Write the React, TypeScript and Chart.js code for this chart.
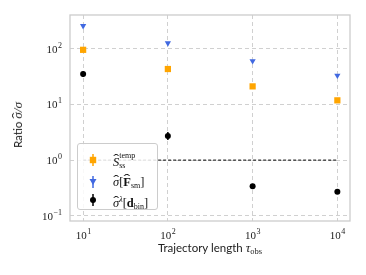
import React, { useEffect, useRef } from "react";
import { Chart, registerables } from "chart.js";

Chart.register(...registerables);

// ---- data ----
const trajectoryLengths = [10, 100, 1000, 10000];
const sTempSS = [95, 43, 21, 11.8];
const sigmaFsm = [256, 125, 60, 33];
const sigmaLambdaDbin = [35, 2.7, 0.34, 0.27];
const sigmaLambdaLow = [31, 2.3, 0.32, 0.255];
const sigmaLambdaHigh = [39, 3.2, 0.36, 0.285];
const referenceX = [10, 10000];
const referenceY = [1, 1];
const xTickExponents = [1, 2, 3, 4];
const yTickExponents = [-1, 0, 1, 2];

const ORANGE = "#ffa500";
const BLUE = "#4169e1";
const GRID = "#d0d0d0";

const overlayPlugin = {
  id: "overlay",
  afterDatasetsDraw(chart: any) {
    const ctx = chart.ctx;
    const xs = chart.scales.x;
    const ys = chart.scales.y;
    ctx.save();
    ctx.strokeStyle = "#000";
    ctx.lineWidth = 1.5;
    trajectoryLengths.forEach((x, i) => {
      const px = xs.getPixelForValue(x);
      ctx.beginPath();
      ctx.moveTo(px, ys.getPixelForValue(sigmaLambdaLow[i]));
      ctx.lineTo(px, ys.getPixelForValue(sigmaLambdaHigh[i]));
      ctx.stroke();
    });
    ctx.restore();
  },
  afterDraw(chart: any) {
    const ctx = chart.ctx;
    const a = chart.chartArea;
    const xs = chart.scales.x;
    const ys = chart.scales.y;
    ctx.save();
    ctx.strokeStyle = "#cccccc";
    ctx.lineWidth = 1.3;
    ctx.strokeRect(a.left, a.top, a.right - a.left, a.bottom - a.top);
    ctx.fillStyle = "#222";
    const base = "11px 'Liberation Serif', serif";
    const sup = "8px 'Liberation Serif', serif";
    xTickExponents.forEach((e) => {
      const px = xs.getPixelForValue(Math.pow(10, e));
      ctx.font = base;
      const w1 = ctx.measureText("10").width;
      ctx.font = sup;
      const w2 = ctx.measureText(String(e)).width;
      const left = px - (w1 + w2) / 2;
      ctx.textBaseline = "alphabetic";
      ctx.textAlign = "left";
      ctx.font = base;
      ctx.fillText("10", left, a.bottom + 18);
      ctx.font = sup;
      ctx.fillText(String(e), left + w1 + 0.5, a.bottom + 13);
    });
    yTickExponents.forEach((e) => {
      const py = ys.getPixelForValue(Math.pow(10, e));
      const es = e < 0 ? "\u2212" + Math.abs(e) : String(e);
      ctx.font = sup;
      const w2 = ctx.measureText(es).width;
      ctx.font = base;
      const w1 = ctx.measureText("10").width;
      const right = a.left - 8;
      ctx.textAlign = "left";
      ctx.textBaseline = "alphabetic";
      ctx.fillText("10", right - w2 - w1 - 0.5, py + 4);
      ctx.font = sup;
      ctx.fillText(es, right - w2, py - 1);
    });
    ctx.restore();
  },
};

function Marker({ kind, color }: { kind: string; color: string }) {
  return (
    <svg width="10" height="14" viewBox="0 0 10 14" style={{ display: "block" }}>
      <line x1="5" y1="1" x2="5" y2="13" stroke={color} strokeWidth="1.5" />
      {kind === "square" && <rect x="1.8" y="3.8" width="6.4" height="6.4" fill={color} />}
      {kind === "triangle" && <polygon points="1.5,4 8.5,4 5,10" fill={color} />}
      {kind === "circle" && <circle cx="5" cy="7" r="3" fill={color} />}
    </svg>
  );
}

function Hat({ children, top = -1, scale = 1.4 }: { children: React.ReactNode; top?: number; scale?: number }) {
  return (
    <span style={{ position: "relative", display: "inline-block" }}>
      {children}
      <span
        style={{
          position: "absolute",
          left: 0,
          right: 0,
          top,
          lineHeight: 1,
          textAlign: "center",
          fontStyle: "normal",
          fontWeight: "normal",
          transform: `scaleX(${scale})`,
        }}
      >
        {"\u02c6"}
      </span>
    </span>
  );
}

export default function App() {
  const canvasRef = useRef<HTMLCanvasElement | null>(null);

  useEffect(() => {
    if (!canvasRef.current) return;
    const chart = new Chart(canvasRef.current, {
      type: "scatter",
      data: {
        datasets: [
          {
            label: "ref",
            data: referenceX.map((x, i) => ({ x, y: referenceY[i] })),
            showLine: true,
            borderColor: "#000",
            borderWidth: 1,
            borderDash: [3, 2],
            pointRadius: 0,
            order: 4,
          },
          {
            label: "S_ss^temp",
            data: trajectoryLengths.map((x, i) => ({ x, y: sTempSS[i] })),
            pointStyle: "rect",
            pointRadius: 4.4,
            backgroundColor: ORANGE,
            borderColor: ORANGE,
            borderWidth: 0,
            order: 3,
          },
          {
            label: "sigma[F_sm]",
            data: trajectoryLengths.map((x, i) => ({ x, y: sigmaFsm[i] })),
            pointStyle: "triangle",
            rotation: 180,
            pointRadius: 3.6,
            backgroundColor: BLUE,
            borderColor: BLUE,
            borderWidth: 0,
            order: 2,
          },
          {
            label: "sigma^lambda[d_bin]",
            data: trajectoryLengths.map((x, i) => ({ x, y: sigmaLambdaDbin[i] })),
            pointStyle: "circle",
            pointRadius: 3,
            backgroundColor: "#000",
            borderColor: "#000",
            borderWidth: 0,
            order: 1,
          },
        ],
      },
      options: {
        responsive: false,
        animation: false,
        devicePixelRatio: 1,
        layout: { padding: { left: 0, top: 15, right: 16, bottom: 0 } },
        plugins: { legend: { display: false }, tooltip: { enabled: false } },
        scales: {
          x: {
            type: "logarithmic",
            min: 7,
            max: 14100,
            afterBuildTicks: (s: any) => {
              s.ticks = xTickExponents.map((e) => ({ value: Math.pow(10, e) }));
            },
            afterFit: (s: any) => {
              s.height = 54;
            },
            ticks: { display: false },
            grid: { color: GRID, lineWidth: 1, drawTicks: false },
            border: { display: false, dash: [4, 3] },
          },
          y: {
            type: "logarithmic",
            min: 0.081,
            max: 400,
            afterBuildTicks: (s: any) => {
              s.ticks = yTickExponents.map((e) => ({ value: Math.pow(10, e) }));
            },
            afterFit: (s: any) => {
              s.width = 70;
            },
            ticks: { display: false },
            grid: { color: GRID, lineWidth: 1, drawTicks: false },
            border: { display: false, dash: [4, 3] },
          },
        },
      },
      plugins: [overlayPlugin],
    } as any);
    return () => chart.destroy();
  }, []);

  const serif = "'Liberation Serif', serif";
  const sans = "Lato, 'DejaVu Sans', sans-serif";
  const subStyle: React.CSSProperties = { fontSize: "8px", verticalAlign: "-2px", fontStyle: "normal", fontWeight: "normal" };
  const supStyle: React.CSSProperties = { fontSize: "8px", verticalAlign: "5px" };
  const legendText: React.CSSProperties = {
    position: "absolute",
    left: 113,
    fontFamily: serif,
    fontSize: "12.5px",
    color: "#111",
    whiteSpace: "nowrap",
    lineHeight: "14px",
  };

  return (
    <div style={{ position: "absolute", left: 0, top: 0, width: 366, height: 275, background: "#fff" }}>
      <canvas ref={canvasRef} width={366} height={275} style={{ display: "block" }} />
      <div
        style={{
          position: "absolute",
          left: 18,
          top: 125,
          transform: "translate(-50%, -50%) rotate(-90deg)",
          whiteSpace: "nowrap",
          fontFamily: sans,
          fontSize: "11.5px",
          lineHeight: "14px",
          color: "#222",
        }}
      >
        Ratio{" "}
        <span style={{ fontFamily: serif, fontStyle: "italic", fontSize: "13px" }}>
          <Hat top={-1.5}>{"\u03c3"}</Hat>/{"\u03c3"}
        </span>
      </div>
      <div
        style={{
          position: "absolute",
          left: 210,
          top: 248,
          transform: "translate(-50%, -50%)",
          whiteSpace: "nowrap",
          fontFamily: sans,
          fontSize: "11.5px",
          color: "#222",
        }}
      >
        Trajectory length{" "}
        <span style={{ fontFamily: serif, fontStyle: "italic", fontSize: "13px" }}>
          {"\u03c4"}
          <span style={{ ...subStyle, fontSize: "8.5px" }}>obs</span>
        </span>
      </div>
      <div
        style={{
          position: "absolute",
          left: 77,
          top: 143,
          width: 81,
          height: 67,
          border: "1px solid #cccccc",
          borderRadius: 3,
          background: "rgba(255,255,255,0.85)",
          boxSizing: "border-box",
        }}
      />
      {[
        { kind: "square", color: ORANGE, y: 160 },
        { kind: "triangle", color: BLUE, y: 182 },
        { kind: "circle", color: "#000", y: 200 },
      ].map((m, i) => (
        <div key={i} style={{ position: "absolute", left: 88, top: m.y - 7 }}>
          <Marker kind={m.kind} color={m.color} />
        </div>
      ))}
      <div style={{ ...legendText, top: 155 }}>
        <span style={{ fontStyle: "italic" }}>
          <Hat top={-2.5}>S</Hat>
        </span>
        <span style={{ display: "inline-block", position: "relative", width: 18 }}>
          <span style={{ position: "absolute", left: 0, top: -14, fontSize: "8px", lineHeight: "8px" }}>temp</span>
          <span style={{ position: "absolute", left: 0, top: -4, fontSize: "8px", lineHeight: "8px" }}>ss</span>
        </span>
      </div>
      <div style={{ ...legendText, top: 175 }}>
        <span style={{ fontStyle: "italic" }}>
          <Hat top={-1}>{"\u03c3"}</Hat>
        </span>
        [
        <b>
          <Hat top={-2} scale={1.6}>F</Hat>
        </b>
        <span style={subStyle}>sm</span>]
      </div>
      <div style={{ ...legendText, top: 193 }}>
        <span style={{ fontStyle: "italic" }}>
          <Hat top={-1}>{"\u03c3"}</Hat>
        </span>
        <span style={{ ...supStyle, fontStyle: "italic" }}>{"\u03bb"}</span>[<b>d</b>
        <span style={subStyle}>bin</span>]
      </div>
    </div>
  );
}
